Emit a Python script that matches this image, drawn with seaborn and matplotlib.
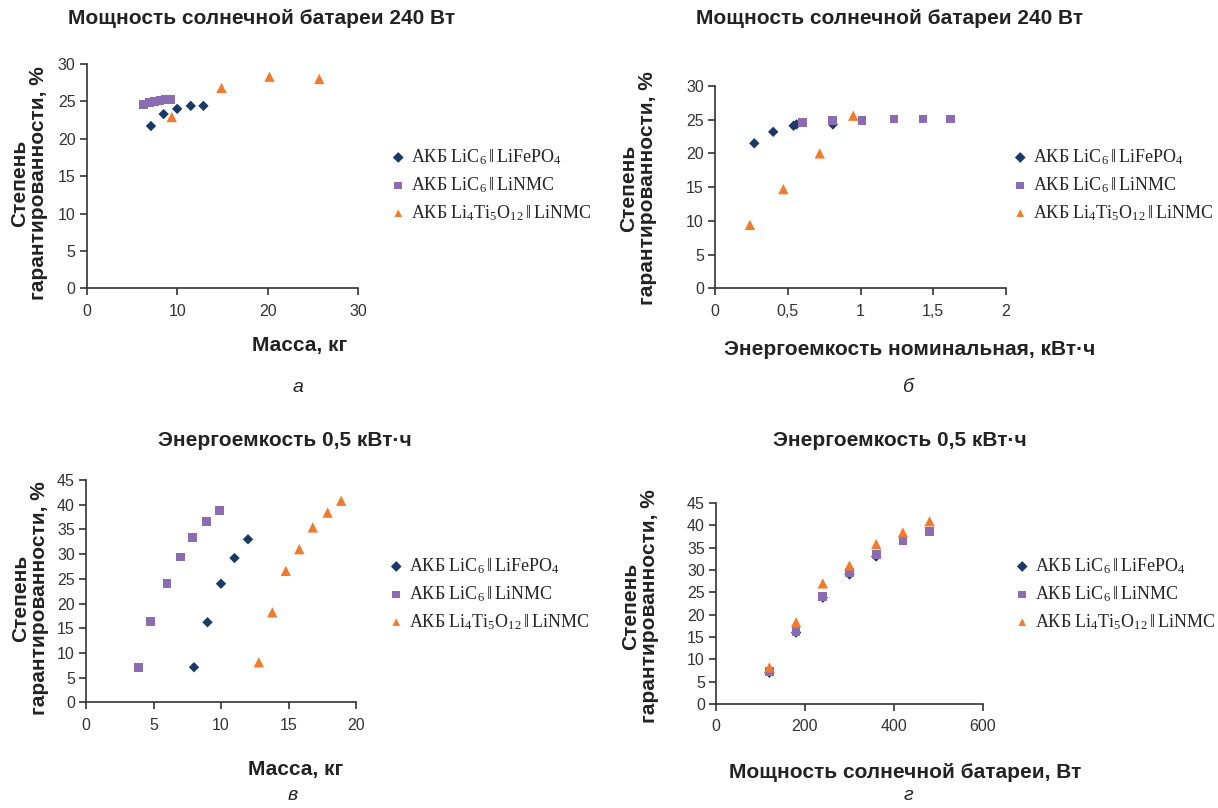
import numpy as np
import pandas as pd
import matplotlib
matplotlib.use('Agg')
import matplotlib.pyplot as plt
import seaborn as sns

# --- data ---
series_names = ['АКБ LiC$_6$$\\,\\Vert\\,$LiFePO$_4$', 'АКБ LiC$_6$$\\,\\Vert\\,$LiNMC',
                'АКБ Li$_4$Ti$_5$O$_{12}$$\\,\\Vert\\,$LiNMC']

# а: mass vs guarantee, PV 240 W
a_fepo_x = [7.1, 8.5, 10.0, 11.5, 12.9]
a_fepo_y = [21.7, 23.3, 24.0, 24.4, 24.4]
a_nmc_x = [6.3, 6.9, 7.5, 8.1, 8.7, 9.3]
a_nmc_y = [24.6, 24.9, 25.0, 25.1, 25.2, 25.2]
a_lto_x = [9.4, 14.9, 20.2, 25.7]
a_lto_y = [22.9, 26.8, 28.3, 28.0]

# б: nominal energy vs guarantee, PV 240 W
b_fepo_x = [0.27, 0.40, 0.54, 0.56, 0.81]
b_fepo_y = [21.5, 23.2, 24.1, 24.3, 24.3]
b_nmc_x = [0.60, 0.81, 1.01, 1.23, 1.43, 1.62]
b_nmc_y = [24.6, 24.9, 24.9, 25.1, 25.1, 25.1]
b_lto_x = [0.24, 0.47, 0.72, 0.95]
b_lto_y = [9.4, 14.7, 20.0, 25.6]

# в: mass vs guarantee, 0.5 kWh
c_fepo_x = [8, 9, 10, 11, 12]
c_fepo_y = [7.1, 16.2, 24.0, 29.2, 33.0]
c_nmc_x = [3.9, 4.8, 6.0, 7.0, 7.9, 8.9, 9.9]
c_nmc_y = [7.1, 16.3, 24.0, 29.4, 33.3, 36.6, 38.9]
c_lto_x = [12.8, 13.8, 14.8, 15.8, 16.8, 17.9, 18.9]
c_lto_y = [8.1, 18.2, 26.6, 31.0, 35.4, 38.4, 40.8]

# г: PV power vs guarantee, 0.5 kWh
d_fepo_x = [120, 180, 240, 300, 360]
d_fepo_y = [7.0, 16.0, 23.8, 29.0, 33.0]
d_nmc_x = [120, 180, 240, 300, 360, 420, 480]
d_nmc_y = [7.2, 16.3, 24.1, 29.4, 33.4, 36.6, 38.6]
d_lto_x = [120, 180, 240, 300, 360, 420, 480]
d_lto_y = [8.2, 18.3, 27.0, 31.0, 35.8, 38.4, 40.9]

colors = ['#1a3868', '#8b6cb3', '#f27a2c']
markers = ['D', 's', '^']
sizes = [28, 40, 55]


def make_df(xs, ys):
    parts = []
    for name, x, y in zip(series_names, xs, ys):
        parts.append(pd.DataFrame({'x': x, 'y': y, 'series': name}))
    return pd.concat(parts, ignore_index=True)


sns.set_style('ticks')
plt.rcParams['font.family'] = ['Liberation Sans', 'DejaVu Sans']
plt.rcParams['mathtext.default'] = 'regular'

fig = plt.figure(figsize=(12.18, 8.08), dpi=100)
W, H = 1218, 808


def px_axes(left, top, right, bottom):
    return fig.add_axes([left / W, 1 - bottom / H, (right - left) / W, (bottom - top) / H])


panels = [
    dict(box=(86.7, 64, 358.2, 288.3), xs=[a_fepo_x, a_nmc_x, a_lto_x], ys=[a_fepo_y, a_nmc_y, a_lto_y],
         xlim=(0, 30), xticks=[0, 10, 20, 30], xticklabels=['0', '10', '20', '30'],
         ylim=(0, 30), yticks=range(0, 31, 5),
         title='Мощность солнечной батареи 240 Вт', title_pos=(262, 18),
         xlabel='Масса, кг', xlabel_pos=(300, 346), cap='а', cap_pos=(298, 388),
         ylab_pos=(29, 183), leg_pos=(382, 140)),
    dict(box=(715, 86, 1006, 288.3), xs=[b_fepo_x, b_nmc_x, b_lto_x], ys=[b_fepo_y, b_nmc_y, b_lto_y],
         xlim=(0, 2), xticks=[0, 0.5, 1, 1.5, 2], xticklabels=['0', '0,5', '1', '1,5', '2'],
         ylim=(0, 30), yticks=range(0, 31, 5),
         title='Мощность солнечной батареи 240 Вт', title_pos=(890, 18),
         xlabel='Энергоемкость номинальная, кВт·ч', xlabel_pos=(910, 350), cap='б', cap_pos=(908, 388),
         ylab_pos=(638, 188), leg_pos=(1004, 140)),
    dict(box=(86, 480, 356, 702.3), xs=[c_fepo_x, c_nmc_x, c_lto_x], ys=[c_fepo_y, c_nmc_y, c_lto_y],
         xlim=(0, 20), xticks=[0, 5, 10, 15, 20], xticklabels=['0', '5', '10', '15', '20'],
         ylim=(0, 45), yticks=range(0, 46, 5),
         title='Энергоемкость 0,5 кВт·ч', title_pos=(285, 440),
         xlabel='Масса, кг', xlabel_pos=(296, 770), cap='в', cap_pos=(293, 795),
         ylab_pos=(30, 598), leg_pos=(380, 549)),
    dict(box=(716, 503, 983, 704), xs=[d_fepo_x, d_nmc_x, d_lto_x], ys=[d_fepo_y, d_nmc_y, d_lto_y],
         xlim=(0, 600), xticks=[0, 200, 400, 600], xticklabels=['0', '200', '400', '600'],
         ylim=(0, 45), yticks=range(0, 46, 5),
         title='Энергоемкость 0,5 кВт·ч', title_pos=(900, 440),
         xlabel='Мощность солнечной батареи, Вт', xlabel_pos=(905, 773), cap='г', cap_pos=(908, 795),
         ylab_pos=(640, 606), leg_pos=(1006, 549)),
]

for p in panels:
    ax = px_axes(*p['box'])
    df = make_df(p['xs'], p['ys'])
    for i, name in enumerate(series_names):
        sub = df[df['series'] == name]
        sns.scatterplot(data=sub, x='x', y='y', ax=ax, color=colors[i], marker=markers[i],
                        s=sizes[i], edgecolor='none', linewidth=0, label=name, zorder=3)
    ax.set_xlim(*p['xlim'])
    ax.set_ylim(*p['ylim'])
    ax.set_xticks(p['xticks'])
    ax.set_xticklabels(p['xticklabels'])
    ax.set_yticks(list(p['yticks']))
    ax.set_xlabel('')
    ax.set_ylabel('')
    sns.despine(ax=ax)
    for s in ['left', 'bottom']:
        ax.spines[s].set_color('#333333')
        ax.spines[s].set_linewidth(1.2)
    ax.tick_params(axis='both', direction='out', length=5, width=1.2, color='#333333',
                   labelsize=11.5, labelcolor='#333333', pad=3)
    ax.tick_params(axis='x', pad=6)

    leg = ax.legend(loc='upper left', bbox_to_anchor=(p['leg_pos'][0] / W, 1 - p['leg_pos'][1] / H),
                    bbox_transform=fig.transFigure, frameon=False, handletextpad=0.2,
                    labelspacing=0.45, handlelength=1.0, borderaxespad=0,
                    prop={'family': 'Liberation Serif', 'size': 13})
    for h in leg.legend_handles:
        h.set_sizes([30])

    fig.text(p['title_pos'][0] / W, 1 - p['title_pos'][1] / H, p['title'], ha='center', va='center',
             fontsize=15, fontweight='bold', color='#222222')
    fig.text(p['xlabel_pos'][0] / W, 1 - p['xlabel_pos'][1] / H, p['xlabel'], ha='center', va='center',
             fontsize=15, fontweight='bold', color='#222222')
    fig.text(p['cap_pos'][0] / W, 1 - p['cap_pos'][1] / H, p['cap'], ha='center', va='center',
             fontsize=14, style='italic', color='#222222')
    fig.text(p['ylab_pos'][0] / W, 1 - p['ylab_pos'][1] / H, 'Степень\nгарантированности, %',
             ha='center', va='center', rotation=90, fontsize=15, fontweight='bold', color='#222222',
             linespacing=1.0)

fig.savefig('out.png', dpi=100)
